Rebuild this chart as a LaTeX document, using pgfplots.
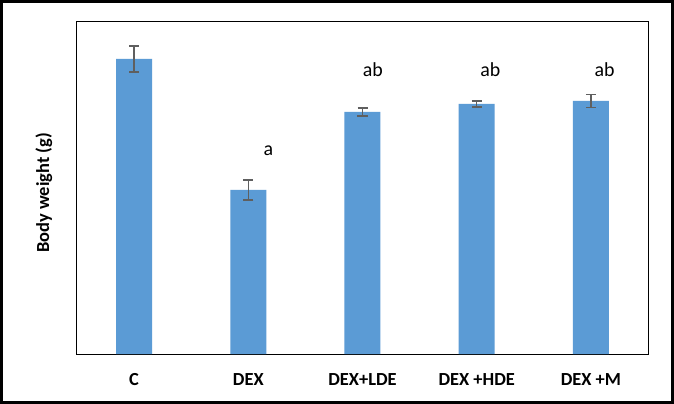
\documentclass[border=0pt]{standalone}
\usepackage{pgfplots}
\pgfplotsset{compat=1.18}
\usepackage{fontspec}
\setmainfont{Carlito}
\definecolor{barblue}{HTML}{5B9BD5}
\definecolor{errgray}{HTML}{5F5F5F}
\begin{document}
\begin{tikzpicture}
\useasboundingbox (-77bp,-50bp) rectangle (597bp,354bp);
\fill[white] (-77bp,-50bp) rectangle (597bp,354bp);
\draw[line width=3.5bp] (-75.25bp,-48.25bp) rectangle (595.25bp,352.25bp);
\begin{axis}[
  at={(0,0)}, anchor=south west,
  scale only axis, width=571bp, height=332bp,
  xmin=-0.5, xmax=4.5, ymin=0, ymax=332,
  xtick={0,1,2,3,4},
  xticklabels={C,DEX,DEX+LDE,DEX +HDE,DEX +M},
  xticklabel style={font=\fontsize{18.5}{20}\selectfont\bfseries, anchor=base, yshift=-31bp},
  major tick length=0pt,
  ytick=\empty,
  axis line style={line width=1bp},
  ylabel={Body weight (g)},
  ylabel style={font=\fontsize{18.5}{20}\selectfont\bfseries, at={(axis description cs:-0.058,0.485)}, anchor=center},
  clip=false,
]
\addplot[ybar, bar width=36bp, fill=barblue, draw=none,
  error bars/.cd, y dir=both, y explicit,
  error bar style={color=errgray, line width=1.2bp},
  error mark options={rotate=90, mark size=5bp, line width=1.2bp, color=errgray}]
coordinates {
  (0,295) +- (0,13)
  (1,164) +- (0,10)
  (2,242) +- (0,4)
  (3,250) +- (0,3)
  (4,253) +- (0,6.5)
};
\node[font=\fontsize{20}{22}\selectfont] at (axis cs:1.175,203) {a};
\node[font=\fontsize{20}{22}\selectfont] at (axis cs:2.09,284) {ab};
\node[font=\fontsize{20}{22}\selectfont] at (axis cs:3.12,284) {ab};
\node[font=\fontsize{20}{22}\selectfont] at (axis cs:4.12,284) {ab};
\end{axis}
\end{tikzpicture}
\end{document}
